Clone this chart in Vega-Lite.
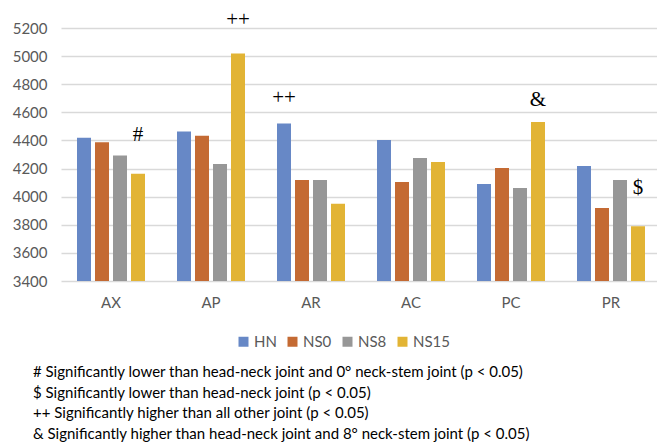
{
  "$schema": "https://vega.github.io/schema/vega-lite/v6.json",
  "width": 600,
  "height": 253,
  "autosize": "none",
  "padding": {"left": 61, "top": 28, "right": 0, "bottom": 161},
  "config": {"view": {"stroke": null}, "font": "Lato"},
  "title": {
    "text": [
      "# Significantly lower than head-neck joint and 0° neck-stem joint (p < 0.05)",
      "$ Significantly lower than head-neck joint (p < 0.05)",
      "++ Significantly higher than all other joint (p < 0.05)",
      "& Significantly higher than head-neck joint and 8° neck-stem joint (p < 0.05)"
    ],
    "orient": "bottom",
    "anchor": "start",
    "frame": "group",
    "dx": -28,
    "offset": 15,
    "font": "Lato",
    "fontSize": 15,
    "fontWeight": "normal",
    "color": "#000000",
    "lineHeight": 20.5,
    "baseline": "top"
  },
  "datasets": {
    "bars": [
      {"joint": "AX", "series": "HN", "value": 4420},
      {"joint": "AX", "series": "NS0", "value": 4388},
      {"joint": "AX", "series": "NS8", "value": 4292},
      {"joint": "AX", "series": "NS15", "value": 4163},
      {"joint": "AP", "series": "HN", "value": 4463},
      {"joint": "AP", "series": "NS0", "value": 4434},
      {"joint": "AP", "series": "NS8", "value": 4232},
      {"joint": "AP", "series": "NS15", "value": 5019},
      {"joint": "AR", "series": "HN", "value": 4520},
      {"joint": "AR", "series": "NS0", "value": 4118},
      {"joint": "AR", "series": "NS8", "value": 4118},
      {"joint": "AR", "series": "NS15", "value": 3950},
      {"joint": "AC", "series": "HN", "value": 4404},
      {"joint": "AC", "series": "NS0", "value": 4104},
      {"joint": "AC", "series": "NS8", "value": 4275},
      {"joint": "AC", "series": "NS15", "value": 4247},
      {"joint": "PC", "series": "HN", "value": 4090},
      {"joint": "PC", "series": "NS0", "value": 4204},
      {"joint": "PC", "series": "NS8", "value": 4061},
      {"joint": "PC", "series": "NS15", "value": 4532},
      {"joint": "PR", "series": "HN", "value": 4218},
      {"joint": "PR", "series": "NS0", "value": 3919},
      {"joint": "PR", "series": "NS8", "value": 4118},
      {"joint": "PR", "series": "NS15", "value": 3790}
    ],
    "marks": [
      {"joint": "AX", "series": "NS15", "value": 4440, "label": "#"},
      {"joint": "AP", "series": "NS15", "value": 5260, "label": "++"},
      {"joint": "AR", "series": "HN", "value": 4703, "label": "++"},
      {"joint": "PC", "series": "NS15", "value": 4688, "label": "&"},
      {"joint": "PR", "series": "NS15", "value": 4060, "label": "$"}
    ]
  },
  "encoding": {
    "x": {
      "field": "joint",
      "type": "nominal",
      "sort": ["AX", "AP", "AR", "AC", "PC", "PR"],
      "scale": {"paddingInner": 0.32, "paddingOuter": 0.16},
      "axis": {
        "title": null,
        "labelAngle": 0,
        "domain": false,
        "ticks": false,
        "labelPadding": 14,
        "labelFontSize": 15,
        "labelColor": "#595959",
        "labelFont": "Lato"
      }
    },
    "xOffset": {
      "field": "series",
      "type": "nominal",
      "sort": ["HN", "NS0", "NS8", "NS15"],
      "scale": {"paddingInner": 0.222, "paddingOuter": 0}
    },
    "y": {
      "field": "value",
      "type": "quantitative",
      "scale": {"domain": [3400, 5200], "nice": false, "zero": false},
      "axis": {
        "title": null,
        "values": [3400, 3600, 3800, 4000, 4200, 4400, 4600, 4800, 5000, 5200],
        "labelOverlap": false,
        "domain": false,
        "ticks": false,
        "labelPadding": 14,
        "labelFontSize": 15,
        "labelColor": "#595959",
        "labelFont": "Lato",
        "gridColor": "#d9d9d9",
        "gridWidth": 1.5,
        "format": "d"
      }
    }
  },
  "layer": [
    {
      "data": {"name": "bars"},
      "mark": {"type": "bar", "clip": true},
      "encoding": {
        "color": {
          "field": "series",
          "type": "nominal",
          "sort": ["HN", "NS0", "NS8", "NS15"],
          "scale": {
            "domain": ["HN", "NS0", "NS8", "NS15"],
            "range": ["#6788C6", "#C46A33", "#979797", "#E2B435"]
          },
          "legend": {
            "title": null,
            "orient": "none",
            "direction": "horizontal",
            "legendX": 175,
            "legendY": 306,
            "symbolType": "square",
            "symbolSize": 100,
            "symbolStrokeWidth": 0,
            "labelFontSize": 15,
            "labelColor": "#595959",
            "labelFont": "Lato",
            "labelOffset": 3,
            "columnPadding": 8
          }
        }
      }
    },
    {
      "data": {"name": "marks"},
      "mark": {"type": "text", "font": "Liberation Serif", "fontSize": 21, "baseline": "middle", "color": "#000000"},
      "encoding": {
        "text": {"field": "label"}
      }
    }
  ]
}
